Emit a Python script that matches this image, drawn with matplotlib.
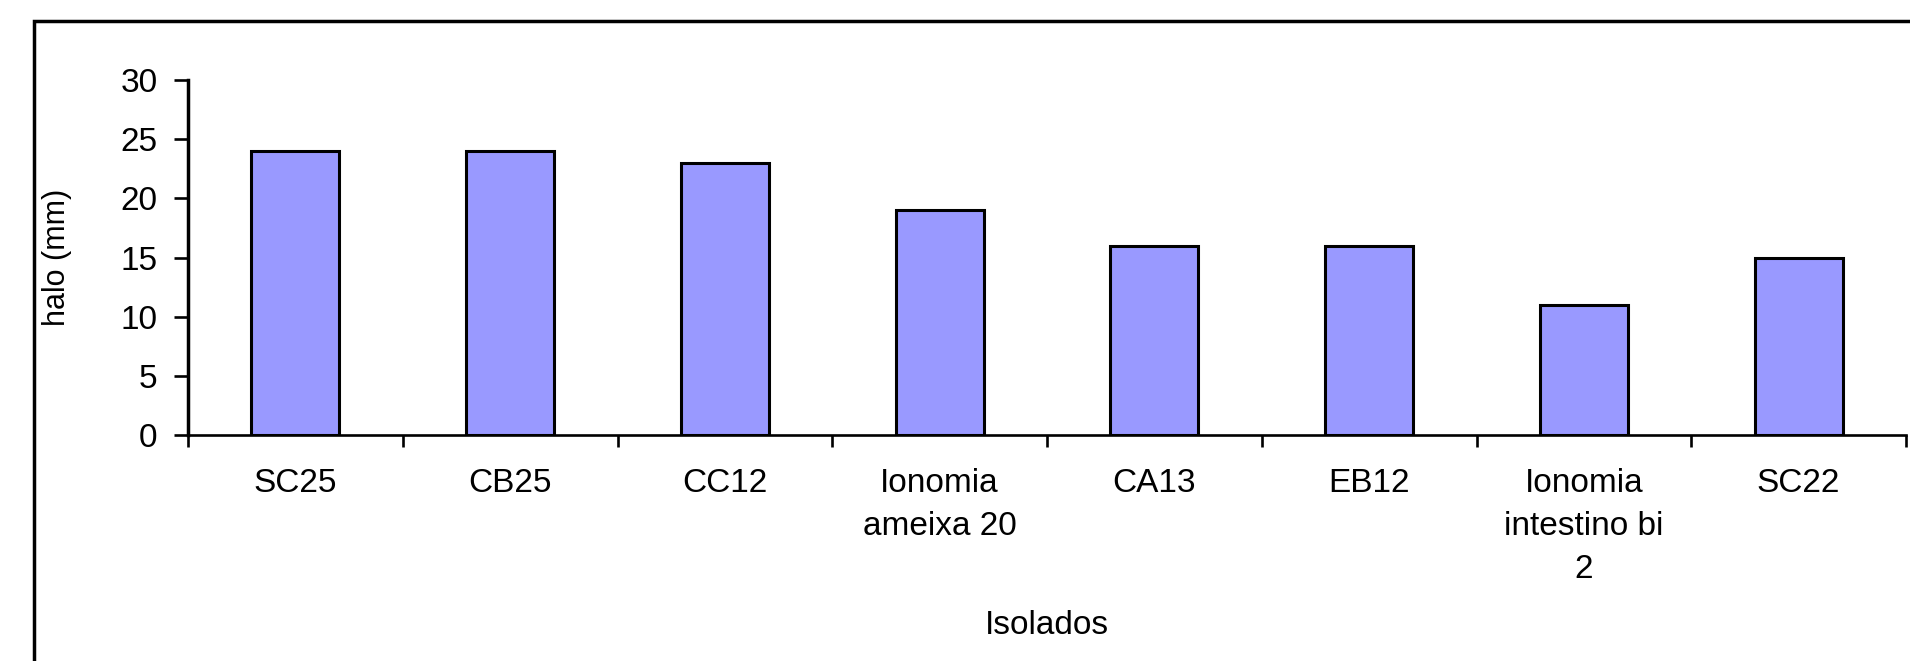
import matplotlib
matplotlib.use("Agg")
import matplotlib.pyplot as plt
from matplotlib.patches import Rectangle
import numpy as np

categories = ["SC25", "CB25", "CC12", "Ionomia\nameixa 20", "CA13", "EB12",
              "Ionomia\nintestino bi\n2", "SC22"]
values = [24, 24, 23, 19, 16, 16, 11, 15]
yticks = [0, 5, 10, 15, 20, 25, 30]

plt.rcParams['font.family'] = ['Liberation Sans', 'DejaVu Sans']
FS = 24

fig = plt.figure(figsize=(19.10, 6.61), dpi=100)
fig.patch.set_facecolor("white")

# outer chart frame (extends beyond right/bottom edges)
frame = Rectangle((34 / 1910, -0.05), 1.1, 1 - 21 / 661 + 0.05,
                  transform=fig.transFigure, fill=False, edgecolor="black",
                  linewidth=2.5, clip_on=False)
fig.patches.append(frame)

ax = fig.add_axes([188 / 1910, 1 - 435 / 661, (1906 - 188) / 1910, (435 - 80) / 661])
x = np.arange(len(categories))
ax.bar(x, values, width=0.41, color="#9999FF", edgecolor="black", linewidth=2.2, zorder=3)

ax.set_xlim(-0.5, len(categories) - 0.5)
ax.set_ylim(0, 30)
ax.set_yticks(yticks)
ax.set_yticklabels([str(v) for v in yticks], fontsize=FS)
ax.set_xticks(x)
ax.set_xticklabels(categories, fontsize=FS, linespacing=1.5)
ax.set_xticks(np.arange(len(categories) + 1) - 0.5, minor=True)
ax.tick_params(axis="x", which="major", length=0, pad=24)
ax.tick_params(axis="x", which="minor", length=8.5, width=1.9, direction="out")
ax.tick_params(axis="y", which="major", length=10, width=1.9, direction="out", pad=12)

for s in ["top", "right"]:
    ax.spines[s].set_visible(False)
ax.spines["left"].set_linewidth(2.5)
ax.spines["bottom"].set_linewidth(1.9)

ax.set_xlabel("Isolados", fontsize=FS, labelpad=18)
ax.set_ylabel("halo (mm)", fontsize=22, labelpad=35)

fig.savefig("out.png", dpi=100, facecolor="white")
